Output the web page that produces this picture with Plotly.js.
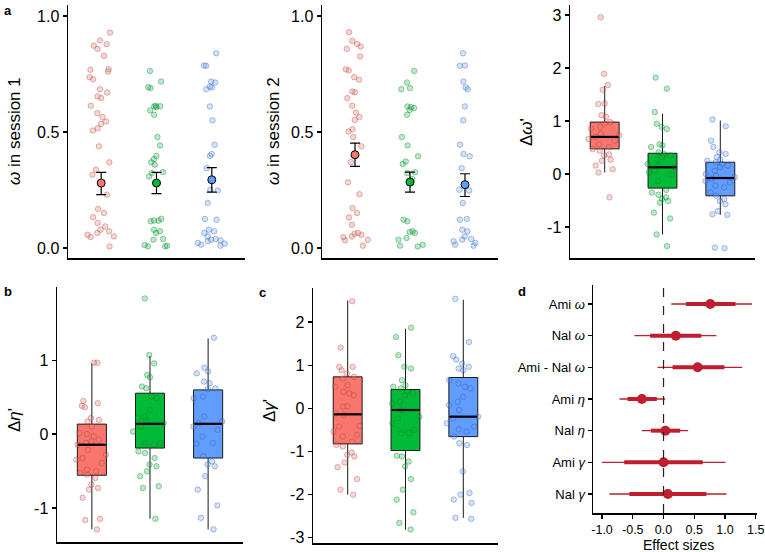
<!DOCTYPE html>
<html><head><meta charset="utf-8">
<script src="https://cdn.plot.ly/plotly-3.0.1.min.js"></script>
<style>html,body{margin:0;padding:0;background:#fff}#chart{width:765px;height:552px}</style>
</head><body><div id="chart"></div>
<script>
// ---------- data ----------
const groupPos = [1, 2, 3];
const groupColors = ['#F8766D', '#00BA38', '#619CFF'];
const pointFill = ['rgba(248,118,109,0.30)', 'rgba(0,186,56,0.28)', 'rgba(97,156,255,0.28)'];
const pointLine = ['rgba(150,60,55,0.35)', 'rgba(0,110,35,0.35)', 'rgba(40,80,160,0.35)'];

// panel a (left): omega in session 1
const omega1Red = [0.928,0.894,0.878,0.872,0.858,0.828,0.770,0.768,0.760,0.736,0.727,0.684,0.670,0.653,0.646,0.613,0.581,0.564,0.545,0.535,0.516,0.506,0.438,0.369,0.337,0.316,0.230,0.168,0.151,0.133,0.108,0.093,0.079,0.072,0.065,0.057,0.050,0.047,0.007];
const omega1Green = [0.763,0.717,0.693,0.689,0.613,0.611,0.610,0.607,0.593,0.574,0.478,0.442,0.397,0.383,0.369,0.359,0.327,0.323,0.308,0.126,0.119,0.118,0.115,0.079,0.072,0.065,0.039,0.036,0.013,0.010,0.007,0.007];
const omega1Blue = [0.839,0.786,0.785,0.717,0.713,0.696,0.692,0.684,0.610,0.550,0.445,0.405,0.397,0.344,0.251,0.248,0.194,0.125,0.122,0.079,0.072,0.065,0.050,0.039,0.036,0.033,0.029,0.022,0.019,0.014,0.010];
const omega1Mean = [0.280, 0.280, 0.294];
const omega1Upper = [0.326, 0.326, 0.346];
const omega1Lower = [0.230, 0.234, 0.241];

// panel a (middle): omega in session 2
const omega2Red = [0.930,0.892,0.879,0.868,0.858,0.825,0.770,0.765,0.736,0.725,0.674,0.671,0.646,0.613,0.584,0.564,0.552,0.512,0.502,0.478,0.438,0.370,0.283,0.232,0.172,0.151,0.132,0.100,0.065,0.062,0.057,0.050,0.047,0.036,0.033,0.010];
const omega2Green = [0.763,0.713,0.689,0.684,0.610,0.607,0.603,0.595,0.574,0.478,0.442,0.395,0.373,0.362,0.326,0.323,0.297,0.122,0.115,0.072,0.069,0.065,0.043,0.036,0.014,0.010,0.007];
const omega2Blue = [0.839,0.786,0.785,0.717,0.692,0.684,0.610,0.550,0.445,0.405,0.395,0.344,0.251,0.248,0.194,0.125,0.122,0.079,0.072,0.050,0.039,0.036,0.029,0.022,0.014,0.010];
const omega2Mean = [0.402, 0.284, 0.273];
const omega2Upper = [0.452, 0.327, 0.320];
const omega2Lower = [0.352, 0.241, 0.222];

// panel a (right): delta omega'
const dOmegaRed = [2.96,1.89,1.68,1.59,1.33,1.32,1.11,1.08,0.98,0.95,0.89,0.86,0.76,0.73,0.70,0.66,0.63,0.56,0.51,0.47,0.44,0.37,0.35,0.27,0.25,0.16,0.09,0.03,-0.44];
const dOmegaGreen = [1.82,1.61,1.17,0.95,0.89,0.85,0.56,0.54,0.51,0.41,0.38,0.35,0.32,0.27,0.19,0.16,0.13,0.06,0.03,-0.01,-0.13,-0.30,-0.35,-0.39,-0.44,-0.47,-0.51,-0.54,-0.73,-0.84,-1.14,-1.36];
const dOmegaBlue = [1.03,0.90,0.63,0.51,0.41,0.38,0.32,0.27,0.25,0.22,0.19,0.16,0.13,0.06,0.0,-0.03,-0.06,-0.09,-0.13,-0.16,-0.22,-0.25,-0.35,-0.41,-0.47,-0.51,-0.57,-0.70,-0.76,-0.77,-1.39,-1.40];
const dOmegaQ1 = [0.475, -0.266, -0.411];
const dOmegaMed = [0.70, 0.127, -0.076];
const dOmegaQ3 = [0.98, 0.392, 0.222];
const dOmegaLo = [0.03, -1.14, -0.77];
const dOmegaHi = [1.66, 1.14, 1.01];

// panel b: delta eta'
const dEtaRed = [0.966,0.966,0.449,0.418,0.382,0.364,0.216,0.193,0.171,0.103,0.013,0.0,-0.031,-0.076,-0.099,-0.121,-0.144,-0.211,-0.279,-0.324,-0.346,-0.391,-0.481,-0.503,-0.526,-0.548,-0.593,-0.683,-0.728,-0.751,-0.863,-1.146,-1.164,-1.29];
const dEtaGreen = [1.834,1.07,0.957,0.80,0.769,0.643,0.62,0.508,0.485,0.328,0.238,0.216,0.193,0.148,0.103,0.036,-0.121,-0.121,-0.144,-0.234,-0.256,-0.324,-0.413,-0.436,-0.503,-0.571,-0.706,-0.728,-1.146];
const dEtaBlue = [1.303,0.899,0.845,0.822,0.710,0.688,0.620,0.607,0.508,0.485,0.238,0.171,0.148,0.103,0.058,-0.031,-0.121,-0.130,-0.301,-0.369,-0.413,-0.436,-0.571,-0.751,-0.966,-1.133,-1.29];
const dEtaQ1 = [-0.557, -0.189, -0.324];
const dEtaMed = [-0.144, 0.139, 0.139];
const dEtaQ3 = [0.135, 0.553, 0.598];
const dEtaLo = [-1.29, -1.146, -1.29];
const dEtaHi = [0.957, 1.056, 1.294];

// panel c: delta gamma'
const dGammaRed = [2.485,1.408,0.962,0.962,0.885,0.808,0.731,0.692,0.538,0.5,0.385,0.346,0.308,0.054,0.038,-0.115,-0.154,-0.408,-0.423,-0.538,-0.615,-0.654,-0.769,-0.846,-0.885,-1.023,-1.077,-1.115,-1.254,-1.362,-1.638,-1.885,-2.0];
const dGammaGreen = [1.869,1.654,1.231,0.962,0.923,0.654,0.538,0.5,0.462,0.385,0.362,0.308,0.154,0.115,-0.038,-0.192,-0.231,-0.346,-0.5,-0.577,-0.577,-1.1,-1.115,-1.231,-1.346,-1.638,-1.885,-2.115,-2.408,-2.654,-2.808];
const dGammaBlue = [2.538,1.538,1.208,1.131,1.038,0.962,0.923,0.885,0.654,0.577,0.5,0.462,0.269,0.154,0.077,-0.038,-0.192,-0.231,-0.346,-0.423,-0.485,-0.538,-0.654,-0.808,-0.846,-1.462,-1.962,-2.0,-2.115,-2.192,-2.538,-2.562];
const dGammaQ1 = [-0.823, -0.977, -0.654];
const dGammaMed = [-0.138, -0.038, -0.192];
const dGammaQ3 = [0.731, 0.438, 0.715];
const dGammaLo = [-2.0, -2.81, -2.538];
const dGammaHi = [2.5, 1.846, 2.515];

// panel d: effect sizes
const effLabels = ['Ami <i>ω</i>', 'Nal <i>ω</i>', 'Ami - Nal <i>ω</i>', 'Ami <i>η</i>', 'Nal <i>η</i>', 'Ami <i>γ</i>', 'Nal <i>γ</i>'];
const effEst = [0.76, 0.20, 0.555, -0.352, 0.03, 0.0, 0.07];
const effThickLo = [0.365, -0.217, 0.147, -0.587, -0.206, -0.64, -0.555];
const effThickHi = [1.17, 0.615, 0.99, -0.109, 0.27, 0.637, 0.697];
const effThinLo = [0.126, -0.473, -0.098, -0.717, -0.352, -1.0, -0.88];
const effThinHi = [1.44, 0.86, 1.28, 0.027, 0.40, 1.007, 1.023];

// ---------- helpers ----------
const W = 765, H = 552;
const FONT = 'Liberation Sans, Arial, Helvetica, sans-serif';
const px = v => v / W;
const py = v => 1 - v / H;
const axSuffix = n => (n === 1 ? '' : String(n));

const traces = [];

function addPoints(vals, g, n) {
  traces.push({
    type: 'box', y: vals, x0: groupPos[g], width: 0.6,
    boxpoints: 'all', jitter: 1, pointpos: 0,
    fillcolor: 'rgba(0,0,0,0)', line: { width: 0, color: 'rgba(0,0,0,0)' },
    marker: { size: 5.5, color: pointFill[g], line: { width: 1, color: pointLine[g] } },
    xaxis: 'x' + axSuffix(n), yaxis: 'y' + axSuffix(n), hoverinfo: 'skip', showlegend: false
  });
}
function addBox(g, n, q1, med, q3, lo, hi) {
  traces.push({
    type: 'box', x: [groupPos[g]], q1: [q1[g]], median: [med[g]], q3: [q3[g]],
    lowerfence: [lo[g]], upperfence: [hi[g]], width: 0.5, whiskerwidth: 0,
    boxpoints: false, fillcolor: groupColors[g], line: { width: 1, color: '#1a1a1a' },
    xaxis: 'x' + axSuffix(n), yaxis: 'y' + axSuffix(n), hoverinfo: 'skip', showlegend: false
  });
}
function addMedians(med, n) {
  traces.push({
    type: 'scatter', mode: 'markers', x: groupPos, y: med,
    marker: { symbol: 'line-ew', size: 19.5, color: 'black', line: { width: 2.2, color: 'black' } },
    xaxis: 'x' + axSuffix(n), yaxis: 'y' + axSuffix(n), hoverinfo: 'skip', showlegend: false
  });
}
function addMeans(mean, upper, lower, n) {
  traces.push({
    type: 'scatter', mode: 'markers', x: groupPos, y: mean,
    error_y: { type: 'data', symmetric: false,
      array: upper.map((u, i) => u - mean[i]), arrayminus: lower.map((l, i) => mean[i] - l),
      color: 'black', thickness: 1.2, width: 5 },
    marker: { size: 8, color: groupColors, line: { width: 1, color: 'black' } },
    xaxis: 'x' + axSuffix(n), yaxis: 'y' + axSuffix(n), hoverinfo: 'skip', showlegend: false
  });
}

// panel a1
[omega1Red, omega1Green, omega1Blue].forEach((v, g) => addPoints(v, g, 1));
addMeans(omega1Mean, omega1Upper, omega1Lower, 1);
// panel a2
[omega2Red, omega2Green, omega2Blue].forEach((v, g) => addPoints(v, g, 2));
addMeans(omega2Mean, omega2Upper, omega2Lower, 2);
// panel a3
[0, 1, 2].forEach(g => addBox(g, 3, dOmegaQ1, dOmegaMed, dOmegaQ3, dOmegaLo, dOmegaHi));
[dOmegaRed, dOmegaGreen, dOmegaBlue].forEach((v, g) => addPoints(v, g, 3));
addMedians(dOmegaMed, 3);
// panel b
[0, 1, 2].forEach(g => addBox(g, 4, dEtaQ1, dEtaMed, dEtaQ3, dEtaLo, dEtaHi));
[dEtaRed, dEtaGreen, dEtaBlue].forEach((v, g) => addPoints(v, g, 4));
addMedians(dEtaMed, 4);
// panel c
[0, 1, 2].forEach(g => addBox(g, 5, dGammaQ1, dGammaMed, dGammaQ3, dGammaLo, dGammaHi));
[dGammaRed, dGammaGreen, dGammaBlue].forEach((v, g) => addPoints(v, g, 5));
addMedians(dGammaMed, 5);

// panel d
const dRed = '#BE1E2D';
traces.push({
  type: 'scatter', mode: 'markers', x: effEst, y: effLabels, xaxis: 'x6', yaxis: 'y6',
  marker: { size: 1, color: dRed },
  error_x: { type: 'data', symmetric: false, array: effThinHi.map((h, i) => h - effEst[i]),
    arrayminus: effThinLo.map((l, i) => effEst[i] - l), color: dRed, thickness: 1.3, width: 0 },
  hoverinfo: 'skip', showlegend: false
});
traces.push({
  type: 'scatter', mode: 'markers', x: effEst, y: effLabels, xaxis: 'x6', yaxis: 'y6',
  marker: { size: 1, color: dRed },
  error_x: { type: 'data', symmetric: false, array: effThickHi.map((h, i) => h - effEst[i]),
    arrayminus: effThickLo.map((l, i) => effEst[i] - l), color: dRed, thickness: 4, width: 0 },
  hoverinfo: 'skip', showlegend: false
});
traces.push({
  type: 'scatter', mode: 'markers', x: effEst, y: effLabels, xaxis: 'x6', yaxis: 'y6',
  marker: { size: 10, color: dRed }, hoverinfo: 'skip', showlegend: false
});

// ---------- layout ----------
function xAx(x0, x1, y0, y1, n, extra) {
  return Object.assign({
    domain: [px(x0), px(x1)], anchor: 'y' + axSuffix(n), type: 'linear',
    range: [0.4, 3.6], showline: true, linecolor: 'black', linewidth: 1.5,
    ticks: '', showticklabels: false, showgrid: false, zeroline: false, fixedrange: true
  }, extra || {});
}
function yAx(y0, y1, n, range, vals, texts, extra) {
  const ax = Object.assign({
    domain: [py(y1), py(y0)], anchor: 'x' + axSuffix(n), range: range,
    showline: true, linecolor: 'black', linewidth: 1.5,
    ticks: 'outside', ticklen: 4, tickwidth: 1.2, tickcolor: 'black',
    tickfont: { family: FONT, size: 16, color: 'black' },
    showgrid: false, zeroline: false, fixedrange: true
  }, extra || {});
  if (vals) { ax.tickvals = vals; ax.ticktext = texts; }
  return ax;
}

const layout = {
  width: W, height: H, margin: { l: 0, r: 0, t: 0, b: 0 },
  paper_bgcolor: 'white', plot_bgcolor: 'white', showlegend: false,
  boxmode: 'overlay', font: { family: FONT, color: 'black' },
  xaxis: xAx(68, 245, 5, 258, 1),
  yaxis: yAx(5, 258, 1, [-0.043, 1.047], [0, 0.5, 1], ['0.0', '0.5', '1.0']),
  xaxis2: xAx(322, 498, 5, 258, 2),
  yaxis2: yAx(5, 258, 2, [-0.043, 1.047], [0, 0.5, 1], ['0.0', '0.5', '1.0']),
  xaxis3: xAx(570, 755, 5, 258, 3),
  yaxis3: yAx(5, 258, 3, [-1.585, 3.19], [-1, 0, 1, 2, 3], ['-1', '0', '1', '2', '3']),
  xaxis4: xAx(57, 243, 287, 542, 4),
  yaxis4: yAx(287, 542, 4, [-1.46, 1.99], [-1, 0, 1], ['-1', '0', '1']),
  xaxis5: xAx(313, 498, 288, 543, 5),
  yaxis5: yAx(288, 543, 5, [-3.12, 2.79], [-3, -2, -1, 0, 1, 2], ['-3', '-2', '-1', '0', '1', '2']),
  xaxis6: xAx(593, 757, 285, 513, 6, {
    range: [-1.147, 1.52], ticks: 'outside', ticklen: 4, tickwidth: 1.2, tickcolor: 'black',
    showticklabels: true, tickvals: [-1, -0.5, 0, 0.5, 1, 1.5],
    ticktext: ['-1.0', '-0.5', '0.0', '0.5', '1.0', '1.5'],
    tickfont: { family: FONT, size: 12.5, color: 'black' }
  }),
  yaxis6: yAx(285, 513, 6, [-0.6, 6.6], null, null, {
    type: 'category', categoryorder: 'array', categoryarray: effLabels.slice().reverse(),
    tickfont: { family: FONT, size: 13, color: 'black' }
  }),
  shapes: [{
    type: 'line', xref: 'x6', yref: 'y6 domain', x0: 0, x1: 0, y0: 0, y1: 1,
    line: { color: '#222', width: 1.2, dash: 'dash' }
  }],
  annotations: []
};

function ann(text, x, y, opts) {
  layout.annotations.push(Object.assign({
    text: text, xref: 'paper', yref: 'paper', x: px(x), y: py(y),
    showarrow: false, xanchor: 'center', yanchor: 'middle',
    font: { family: FONT, size: 17, color: 'black' }
  }, opts || {}));
}
// axis titles
ann('<i>ω</i> in session 1', 14, 131, { textangle: -90 });
ann('<i>ω</i> in session 2', 273, 131, { textangle: -90 });
ann('Δ<i>ω</i>\'', 527, 132, { textangle: -90 });
ann('Δ<i>η</i>\'', 14, 420, { textangle: -90 });
ann('Δ<i>γ</i>\'', 269, 411, { textangle: -90 });
ann('Effect sizes', 678, 545, { font: { family: FONT, size: 14, color: 'black' } });
// panel letters
const letterFont = { family: FONT, size: 13, color: 'black', weight: 'bold' };
ann('<b>a</b>', 2, 1, { xanchor: 'left', yanchor: 'top', font: letterFont });
ann('<b>b</b>', 2, 282, { xanchor: 'left', yanchor: 'top', font: letterFont });
ann('<b>c</b>', 257, 283, { xanchor: 'left', yanchor: 'top', font: letterFont });
ann('<b>d</b>', 516, 282, { xanchor: 'left', yanchor: 'top', font: letterFont });

Plotly.newPlot('chart', traces, layout, { staticPlot: true, displayModeBar: false });
</script></body></html>
